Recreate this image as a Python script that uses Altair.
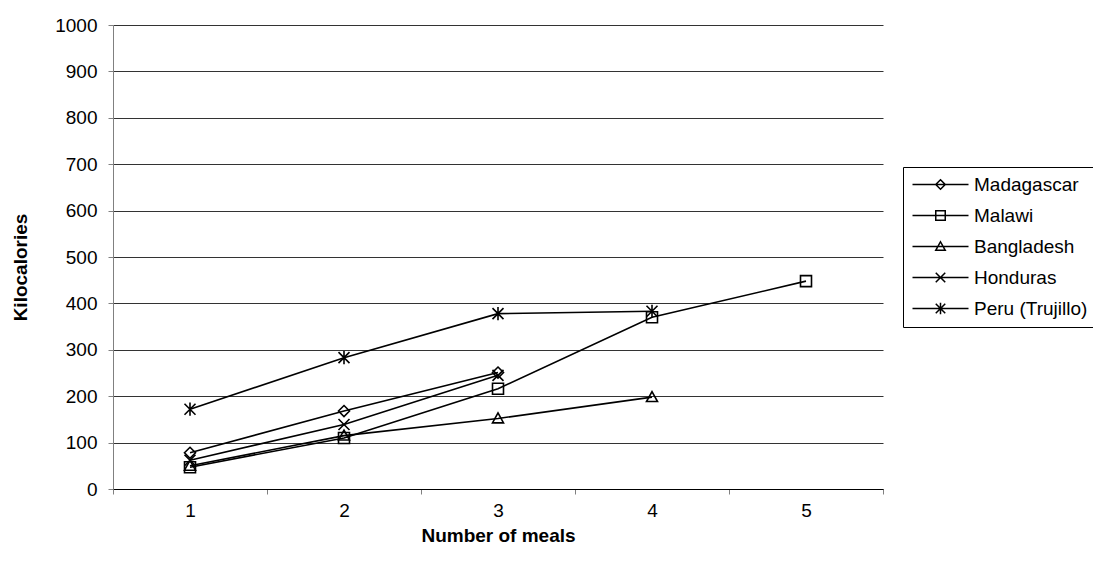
import altair as alt
import pandas as pd

# Average energy intake from complementary foods by number of meals
meals = [1, 2, 3, 4, 5]
countries = ["Madagascar", "Malawi", "Bangladesh", "Honduras", "Peru (Trujillo)"]
madagascar = [78, 168, 251]
malawi = [47, 110, 216, 370, 448]
bangladesh = [50, 115, 152, 198]
honduras = [62, 139, 245]
peru = [172, 283, 378, 383]
series = [madagascar, malawi, bangladesh, honduras, peru]

rows = []
for name, vals in zip(countries, series):
    for m, v in zip(meals, vals):
        rows.append({"country": name, "meals": m, "kcal": v})
df = pd.DataFrame(rows)

FONT = "Liberation Sans"
LABEL_SIZE = 19

# Hollow marker outlines drawn on the chart
marker_paths = [
    "M0,-1L1,0L0,1L-1,0Z",                      # diamond
    "M-1,-1L1,-1L1,1L-1,1Z",                    # square
    "M0,-1L1,0.8L-1,0.8Z",                      # triangle
    "M-1,-1L1,1M-1,1L1,-1",                     # x
    "M-1,-1L1,1M-1,1L1,-1M0,-1.2L0,1.2",        # asterisk
]


def legend_path(marker, s=0.95, half=5.6):
    # a horizontal line with a copy of the marker in the middle
    out = [f"M{-half},0L{half},0"]
    tokens = marker.replace("M", " M ").replace("L", " L ").replace("Z", " Z ").split()
    for t in tokens:
        if t in ("M", "L", "Z"):
            out.append(t)
        else:
            x, y = t.split(",")
            out.append(f"{float(x) * s:.3f},{float(y) * s:.3f}")
    return " ".join(out)


legend_paths = [legend_path(p) for p in marker_paths]

x_enc = alt.X(
    "meals:O",
    scale=alt.Scale(type="band", paddingInner=0, paddingOuter=0),
    axis=alt.Axis(
        title="Number of meals",
        labelAngle=0,
        tickBand="extent",
        grid=False,
        domainColor="#000000",
        tickColor="#808080",
        tickSize=5,
        labelPadding=7,
        labelFont=FONT,
        labelFontSize=LABEL_SIZE,
        labelColor="#000000",
        titleFont=FONT,
        titleFontSize=LABEL_SIZE,
        titleFontWeight="bold",
        titleColor="#000000",
        titleY=46,
        titleBaseline="middle",
    ),
)
y_enc = alt.Y(
    "kcal:Q",
    scale=alt.Scale(domain=[0, 1000], nice=False),
    axis=alt.Axis(
        title="Kilocalories",
        values=list(range(0, 1001, 100)),
        format="d",
        grid=True,
        gridColor="#333333",
        gridWidth=1,
        domainColor="#808080",
        tickColor="#808080",
        tickSize=5,
        labelPadding=11,
        labelFont=FONT,
        labelFontSize=LABEL_SIZE,
        labelColor="#000000",
        titleFont=FONT,
        titleFontSize=LABEL_SIZE,
        titleFontWeight="bold",
        titleColor="#000000",
        titleX=-93,
        titleY=242,
        titleAngle=270,
        titleBaseline="middle",
    ),
)

base = alt.Chart(df)

lines = base.mark_line(color="black", strokeWidth=1.6).encode(
    x=x_enc, y=y_enc, detail="country:N"
)

points = base.mark_point(
    filled=False, color="black", strokeWidth=1.6, size=121, opacity=1
).encode(
    x=x_enc,
    y=y_enc,
    shape=alt.Shape(
        "country:N",
        scale=alt.Scale(domain=countries, range=marker_paths),
        legend=None,
    ),
)

legend_layer = base.mark_point(
    filled=False, fill="transparent", stroke="black", opacity=0, size=100
).encode(
    x=x_enc,
    y=y_enc,
    shape=alt.Shape(
        "country:N",
        scale=alt.Scale(domain=countries, range=legend_paths),
        legend=alt.Legend(
            title=None,
            orient="none",
            legendX=790,
            legendY=142,
            padding=8,
            strokeColor="#000000",
            fillColor="#ffffff",
            symbolOpacity=1,
            symbolSize=100,
            symbolFillColor="transparent",
            symbolStrokeColor="#000000",
            symbolStrokeWidth=1.5,
            symbolOffset=20,
            labelOffset=24,
            labelFont=FONT,
            labelFontSize=LABEL_SIZE,
            labelColor="#000000",
            labelLimit=300,
            rowPadding=11,
        ),
    ),
)

chart = (
    alt.layer(lines, points, legend_layer)
    .resolve_scale(shape="independent")
    .resolve_legend(shape="independent")
    .properties(
        width=770,
        height=464,
        autosize=alt.AutoSizeParams(type="none"),
        padding={"left": 113, "top": 25, "right": 210, "bottom": 82},
        background="white",
    )
    .configure_view(stroke=None)
)

chart.save("out.html", embed_options={"renderer": "svg", "actions": False})
